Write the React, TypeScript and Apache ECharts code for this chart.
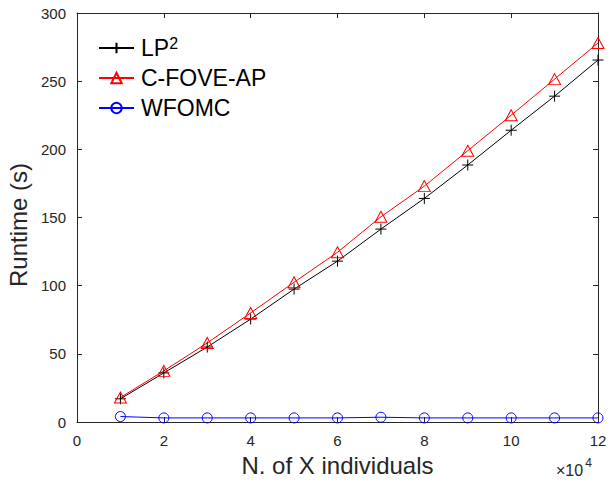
import React, { useEffect, useRef } from "react";
import * as echarts from "echarts";

const xValues = [1, 2, 3, 4, 5, 6, 7, 8, 9, 10, 11, 12];
const lp2 = [17, 36, 55, 75.5, 97.5, 118, 141.5, 164, 188.5, 214, 239, 265.5];
const cfove = [18, 37.5, 58, 80, 102.5, 124.5, 150.5, 173, 199, 225, 251.5, 278];
const wfomc = [4, 3, 3, 3, 3, 3, 3.5, 3, 3, 3, 3, 3];
const seriesNames = ["LP2", "C-FOVE-AP", "WFOMC"];
const xTicks = [0, 2, 4, 6, 8, 10, 12];
const yTicks = [0, 50, 100, 150, 200, 250, 300];

const AX = "#262626";
const FONT = "Liberation Sans, Arial, Helvetica, sans-serif";

export default function App() {
  const ref = useRef<HTMLDivElement>(null);
  useEffect(() => {
    if (!ref.current) return;
    const chart = echarts.init(ref.current, null, { renderer: "svg" });
    const pairs = (ys: number[]) => xValues.map((x, i) => [x, ys[i]]);
    const xBase = {
      type: "value",
      min: xTicks[0],
      max: xTicks[xTicks.length - 1],
      interval: 2,
      axisLine: { show: true, onZero: false, lineStyle: { color: AX, width: 1 } },
      axisTick: { show: true, inside: true, length: 5, lineStyle: { color: AX } },
      splitLine: { show: false },
    };
    const yBase = {
      type: "value",
      min: yTicks[0],
      max: yTicks[yTicks.length - 1],
      interval: 50,
      axisLine: { show: true, onZero: false, lineStyle: { color: AX, width: 1 } },
      axisTick: { show: true, inside: true, length: 5, lineStyle: { color: AX } },
      splitLine: { show: false },
    };
    chart.setOption({
      animation: false,
      backgroundColor: "#ffffff",
      textStyle: { fontFamily: FONT },
      grid: { left: 77, right: 15, top: 13, bottom: 65, containLabel: false, outerBoundsMode: "none" },
      xAxis: [
        {
          ...xBase,
          position: "bottom",
          axisLabel: { color: AX, fontSize: 15, margin: 11, fontFamily: FONT },
          name: "N. of X individuals",
          nameLocation: "middle",
          nameGap: 31,
          nameTextStyle: { color: AX, fontSize: 24, fontFamily: FONT },
        },
        { ...xBase, position: "top", axisLabel: { show: false } },
      ],
      yAxis: [
        {
          ...yBase,
          position: "left",
          axisLabel: { color: AX, fontSize: 15, margin: 11, fontFamily: FONT },
          name: "Runtime (s)",
          nameLocation: "middle",
          nameGap: 41,
          nameRotate: 90,
          nameTextStyle: { color: AX, fontSize: 24, fontFamily: FONT, padding: [0, 15, 0, 0] },
        },
        { ...yBase, position: "right", axisLabel: { show: false } },
      ],
      legend: {
        show: true,
        orient: "vertical",
        left: 98,
        top: 35,
        padding: 0,
        itemWidth: 35,
        itemHeight: 13,
        itemGap: 7,
        data: seriesNames,
        formatter: (name: string) => (name === "LP2" ? "{a|LP}{b|2}" : "{a|" + name + "}"),
        textStyle: {
          color: "#000",
          fontSize: 23,
          fontFamily: FONT,
          padding: [0, 0, 0, 2],
          rich: {
            a: { fontSize: 23, lineHeight: 26, color: "#000", fontFamily: FONT },
            b: { fontSize: 16, lineHeight: 15, verticalAlign: "top", color: "#000", fontFamily: FONT },
          },
        },
      },
      graphic: [
        {
          type: "text",
          x: 556,
          y: 457,
          style: {
            text: "{a|×10}{b|4}",
            fill: AX,
            rich: {
              a: { fontSize: 16, lineHeight: 21, fill: AX, fontFamily: FONT, verticalAlign: "bottom" },
              b: { fontSize: 12, lineHeight: 12, fill: AX, fontFamily: FONT, verticalAlign: "top", padding: [0, 0, 0, 2] },
            },
          },
        },
      ],
      series: [
        {
          name: seriesNames[0],
          type: "line",
          data: pairs(lp2),
          symbol: "path://M0,5L10,5M5,0L5,10",
          symbolSize: 11,
          lineStyle: { color: "#000", width: 1 },
          itemStyle: { color: "rgba(0,0,0,0)", borderColor: "#000", borderWidth: 1 },
        },
        {
          name: seriesNames[1],
          type: "line",
          data: pairs(cfove),
          symbol: "triangle",
          symbolSize: [12, 11],
          lineStyle: { color: "#ff0000", width: 1 },
          itemStyle: { color: "rgba(0,0,0,0)", borderColor: "#ff0000", borderWidth: 1 },
        },
        {
          name: seriesNames[2],
          type: "line",
          data: pairs(wfomc),
          symbol: "circle",
          symbolSize: 10,
          lineStyle: { color: "#0000ff", width: 1 },
          itemStyle: { color: "rgba(0,0,0,0)", borderColor: "#0000ff", borderWidth: 1 },
        },
      ],
    });
    return () => chart.dispose();
  }, []);
  return (
    <div
      ref={ref}
      style={{ position: "absolute", left: 0, top: 0, width: 613, height: 487 }}
    />
  );
}
